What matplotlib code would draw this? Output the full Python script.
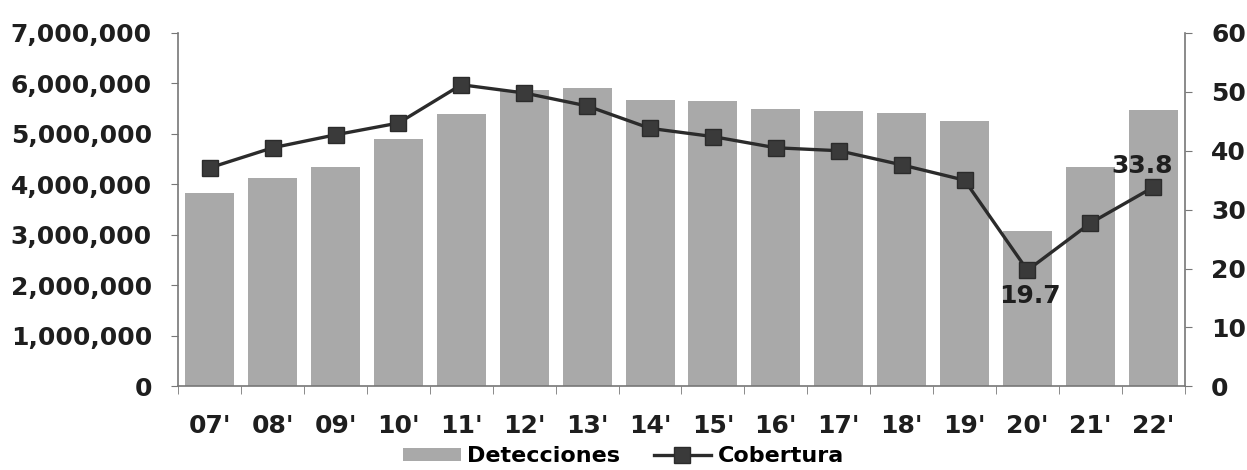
import matplotlib.pyplot as plt
from matplotlib.ticker import FuncFormatter, FixedLocator

years = ["07'", "08'", "09'", "10'", "11'", "12'", "13'", "14'",
         "15'", "16'", "17'", "18'", "19'", "20'", "21'", "22'"]
detecciones = [3830000, 4120000, 4350000, 4900000, 5400000, 5870000,
               5900000, 5670000, 5650000, 5500000, 5460000, 5420000,
               5250000, 3070000, 4340000, 5470000]
cobertura = [37.1, 40.5, 42.7, 44.7, 51.2, 49.8, 47.6, 43.8,
             42.4, 40.5, 40.0, 37.6, 35.0, 19.7, 27.7, 33.8]
left_ticks = [0, 1000000, 2000000, 3000000, 4000000, 5000000, 6000000, 7000000]
right_ticks = [0, 10, 20, 30, 40, 50, 60]

plt.rcParams['font.family'] = 'DejaVu Sans'
plt.rcParams['font.weight'] = 'bold'
plt.rcParams['font.size'] = 18

fig = plt.figure(figsize=(12.47, 4.70), dpi=100)
ax = fig.add_axes([0.143, 0.178, 0.807, 0.752])
x = list(range(len(years)))

bars = ax.bar(x, detecciones, width=0.78, color='#a9a9a9', label='Detecciones')
ax.set_xlim(-0.5, len(years) - 0.5)
ax.set_ylim(0, 7000000)
ax.set_yticks(left_ticks)
ax.yaxis.set_major_formatter(FuncFormatter(lambda v, p: f'{int(v):,}'))
ax.set_xticks(x)
ax.set_xticklabels(years)
ax.xaxis.set_minor_locator(FixedLocator([i - 0.5 for i in range(len(years) + 1)]))
ax.tick_params(axis='x', which='major', length=0, pad=20)
ax.tick_params(axis='x', which='minor', length=6, color='#777777')
ax.tick_params(axis='y', length=5, color='#777777', pad=14, labelcolor='#1e1e1e')
ax.tick_params(axis='x', labelcolor='#1e1e1e')
for s in ['top', 'right']:
    ax.spines[s].set_visible(False)
for s in ['left', 'bottom']:
    ax.spines[s].set_color('#777777')
    ax.spines[s].set_linewidth(1.2)

ax2 = ax.twinx()
line, = ax2.plot(x, cobertura, color='#2b2b2b', lw=2.4, marker='s',
                 markersize=12, markerfacecolor='#3a3a3a',
                 markeredgecolor='#2b2b2b', label='Cobertura')
ax2.set_ylim(0, 60)
ax2.set_yticks(right_ticks)
ax2.tick_params(axis='y', length=5, color='#777777', pad=14, labelcolor='#1e1e1e')
for s in ['top', 'left', 'bottom']:
    ax2.spines[s].set_visible(False)
ax2.spines['right'].set_color('#777777')
ax2.spines['right'].set_linewidth(1.2)

ax2.annotate(f'{cobertura[-1]}', (x[-1], cobertura[-1]), xytext=(-8, 7),
             textcoords='offset points', ha='center', va='bottom',
             fontsize=18, fontweight='bold', color='#1e1e1e')
ax2.annotate(f'{cobertura[13]}', (x[13], cobertura[13]), xytext=(2, -10),
             textcoords='offset points', ha='center', va='top',
             fontsize=18, fontweight='bold', color='#1e1e1e')

fig.legend(handles=[bars, line], labels=['Detecciones', 'Cobertura'],
           loc='lower center', bbox_to_anchor=(0.5, -0.035), ncol=2,
           frameon=False, fontsize=16, handlelength=2.6, handleheight=0.5,
           columnspacing=1.5, handletextpad=0.3)

fig.savefig('out.png', dpi=100)
